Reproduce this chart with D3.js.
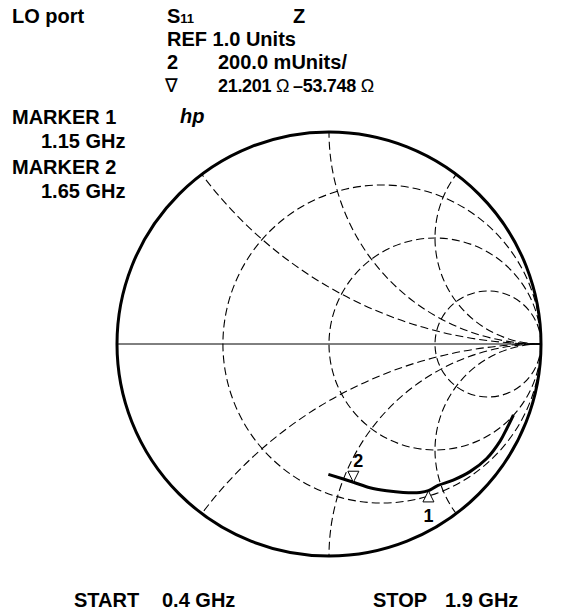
<!DOCTYPE html>
<html>
<head>
<meta charset="utf-8">
<script src="https://cdn.jsdelivr.net/npm/d3@7"></script>
<style>
  html, body { margin: 0; padding: 0; background: #fff; }
  svg { display: block; }
  text { font-family: "Liberation Sans", Arial, sans-serif; font-weight: bold; fill: #000; }
</style>
</head>
<body>
<svg id="chart" width="562" height="613"></svg>
<script>
// ---- data ----
const resistanceCircles = [0.333, 1, 3];          // constant-r circles
const reactanceArcs = [0.5, 1, 2, -0.5, -1, -2];  // constant-x arcs
// reflection coefficient of the trace, START (0.4 GHz) -> STOP (1.9 GHz)
const traceRe = [0.870, 0.840, 0.807, 0.744, 0.665, 0.586, 0.508, 0.469, 0.429, 0.350, 0.272, 0.193, 0.115, -0.003];
const traceIm = [-0.335, -0.396, -0.458, -0.540, -0.602, -0.642, -0.670, -0.692, -0.700, -0.700, -0.692, -0.678, -0.652, -0.615];
const markerIds = ["1", "2"];
const markerFreqs = ["1.15 GHz", "1.65 GHz"];
const markerRe = [0.469, 0.115];
const markerIm = [-0.693, -0.652];
const headerLines = ["REF 1.0 Units", "200.0 mUnits/"];
const markerReadout = ["21.201", "\u201353.748"];
const sweepLabels = ["START", "0.4 GHz", "STOP", "1.9 GHz"];

// ---- layout ----
const svg = d3.select("#chart");
const x = d3.scaleLinear().domain([-1, 1]).range([117, 541]);
const y = d3.scaleLinear().domain([-1, 1]).range([556, 132]);
const R = x(1) - x(0);

const defs = svg.append("defs");
defs.append("clipPath").attr("id", "unit")
  .append("circle").attr("cx", x(0)).attr("cy", y(0)).attr("r", R);

const grid = svg.append("g").attr("clip-path", "url(#unit)")
  .attr("fill", "none").attr("stroke", "#000").attr("stroke-width", 1.1)
  .attr("stroke-dasharray", "8,4");

// resistance circles: center r/(1+r), radius 1/(1+r)
grid.selectAll("circle.r").data(resistanceCircles).enter().append("circle")
  .attr("class", "r")
  .attr("cx", d => x(d / (1 + d)))
  .attr("cy", y(0))
  .attr("r", d => x(1 / (1 + d)) - x(0));

// reactance arcs: center (1, 1/x), radius 1/|x|
grid.selectAll("circle.x").data(reactanceArcs).enter().append("circle")
  .attr("class", "x")
  .attr("cx", x(1))
  .attr("cy", d => y(1 / d))
  .attr("r", d => x(1 / Math.abs(d)) - x(0));

// real axis
svg.append("line")
  .attr("x1", x(-1)).attr("x2", x(1)).attr("y1", y(0)).attr("y2", y(0))
  .attr("stroke", "#000").attr("stroke-width", 1);

// outer circle
svg.append("circle").attr("cx", x(0)).attr("cy", y(0)).attr("r", R)
  .attr("fill", "none").attr("stroke", "#000").attr("stroke-width", 3);

// trace
const pts = traceRe.map((d, i) => [x(d), y(traceIm[i])]);
svg.append("path")
  .attr("d", d3.line().curve(d3.curveCatmullRom.alpha(0.5))(pts))
  .attr("fill", "none").attr("stroke", "#000").attr("stroke-width", 3)
  .attr("stroke-linecap", "butt");

// markers
markerIds.forEach((id, i) => {
  const mx = x(markerRe[i]), my = y(markerIm[i]);
  const up = (id === "1");
  const h = 11, w = 5.5;
  const tri = up
    ? [[mx, my], [mx - w, my + h], [mx + w, my + h]]
    : [[mx, my], [mx - w, my - h], [mx + w, my - h]];
  svg.append("path")
    .attr("d", "M" + tri.map(p => p.join(",")).join("L") + "Z")
    .attr("fill", "#fff").attr("stroke", "#000").attr("stroke-width", 1);
  svg.append("text")
    .attr("x", up ? mx : mx + 5)
    .attr("y", up ? my + 31 : my - 15)
    .attr("text-anchor", "middle")
    .attr("font-size", 18)
    .text(id);
});

// ---- header text ----
const T = (tx, ty, s, size) => svg.append("text").attr("x", tx).attr("y", ty)
  .attr("font-size", size || 20).text(s);

T(12, 23, "LO port");
const s11 = svg.append("text").attr("x", 167).attr("y", 23).attr("font-size", 20);
s11.append("tspan").text("S");
s11.append("tspan").attr("font-size", 13).text("11");
T(293, 23, "Z");
T(167, 46, headerLines[0]);
T(167, 69, "2");
T(218, 69, headerLines[1]);
svg.append("text").attr("x", 165).attr("y", 92).attr("font-size", 19)
  .style("font-weight", "normal").style("font-family", "DejaVu Sans, sans-serif").text("\u2207");
const r1 = svg.append("text").attr("x", 218).attr("y", 92).attr("font-size", 18)
  .attr("letter-spacing", -0.3);
r1.append("tspan").text(markerReadout[0] + " ");
r1.append("tspan").style("font-weight", "normal").text("\u03A9");
const r2 = svg.append("text").attr("x", 293).attr("y", 92).attr("font-size", 18)
  .attr("letter-spacing", -0.3);
r2.append("tspan").text(markerReadout[1] + " ");
r2.append("tspan").style("font-weight", "normal").text("\u03A9");

// marker list
markerIds.forEach((id, i) => {
  T(12, 124 + i * 50, "MARKER " + id);
  T(41, 148 + i * 50, markerFreqs[i]);
});

// hp logo
svg.append("text").attr("x", 180).attr("y", 123).attr("font-size", 20)
  .style("font-style", "italic").text("hp");

// sweep
T(74, 607, sweepLabels[0]);
T(162, 607, sweepLabels[1]);
T(373, 607, sweepLabels[2]);
T(445, 607, sweepLabels[3]);
</script>
</body>
</html>
